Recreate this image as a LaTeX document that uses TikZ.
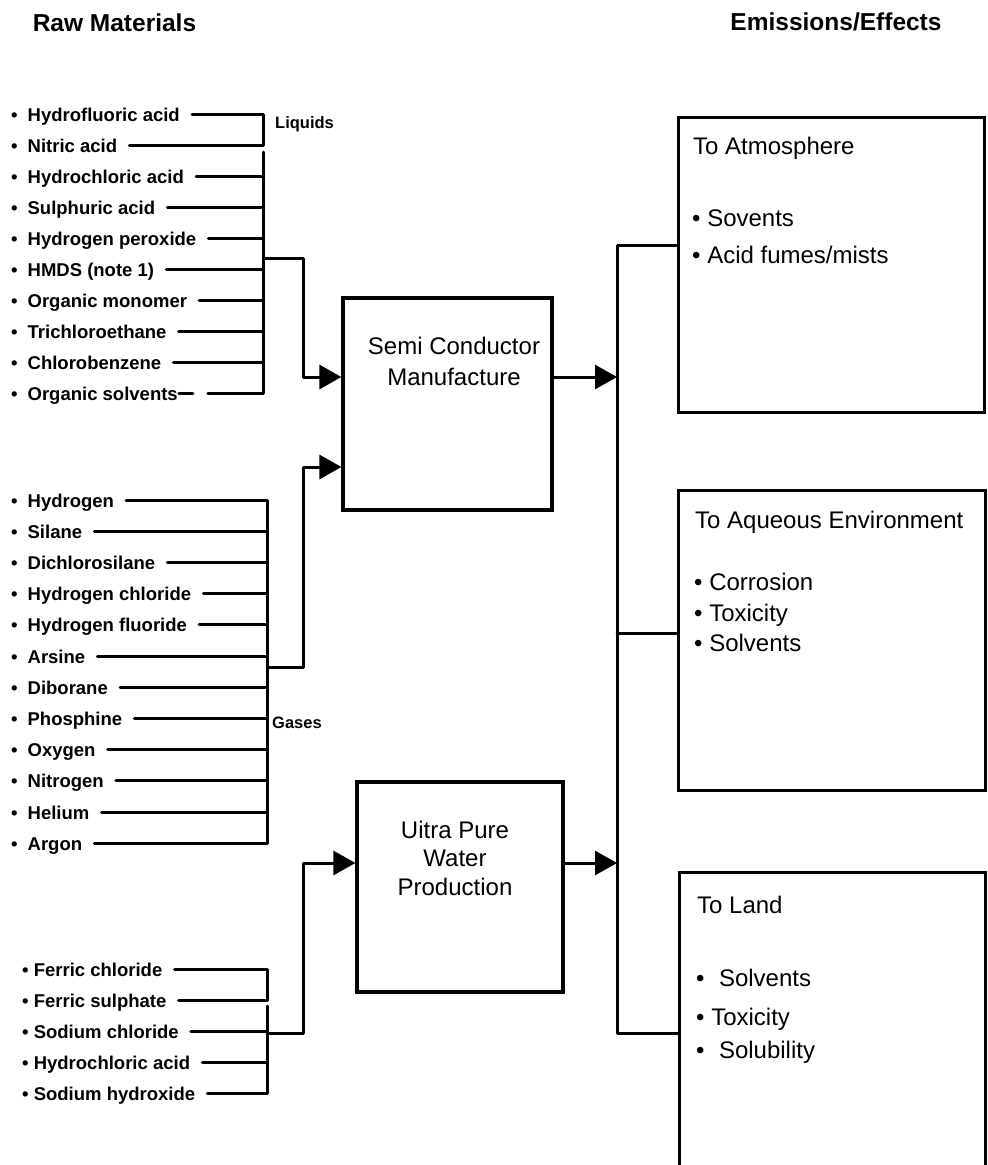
\documentclass[tikz,border=0pt]{standalone}
\usepackage{fontspec}
\setmainfont{Liberation Sans}
\usetikzlibrary{arrows.meta,calc}

% bullet followed by a wide gap, used in the raw-material lists
\newcommand{\lbul}{•\hspace{0.54em}}

\tikzset{
  wire/.style={line width=3pt, line join=round, line cap=round},
  flow/.style={line width=3pt, line join=round, -{Triangle[length=22pt,width=24pt]}},
  item/.style={anchor=west, inner sep=0pt, text height=14pt, text depth=0pt,
    font=\fontsize{18.5}{20}\selectfont\bfseries},
  group/.style={anchor=west, inner sep=0pt, text height=12pt, text depth=0pt,
    font=\fontsize{16.5}{18}\selectfont\bfseries},
  head/.style={inner sep=0pt, text height=18pt, text depth=0pt,
    font=\fontsize{24.5}{28}\selectfont\bfseries},
  procbox/.style={draw, line width=3.2pt, inner sep=0pt},
  proctext/.style={inner sep=0pt, text height=17pt, text depth=0pt,
    font=\fontsize{24}{28}\selectfont},
  sinkbox/.style={draw, line width=3pt, inner sep=0pt},
  sinktext/.style={anchor=west, inner sep=0pt, text height=17pt, text depth=0pt,
    font=\fontsize{24}{28}\selectfont},
}

\begin{document}
\begin{tikzpicture}[x=1pt,y=-1pt]
\useasboundingbox (0,0) rectangle (988,1165);

% column headings
\node[head] (hraw) at (114.5,22.5) {Raw Materials};
\node[head] (hemi) at (836,21.5) {Emissions/Effects};

% ---------------- liquids ----------------
\foreach \t [count=\i] in {Hydrofluoric acid, Nitric acid, Hydrochloric acid,
    Sulphuric acid, Hydrogen peroxide, HMDS (note 1), Organic monomer,
    Trichloroethane, Chlorobenzene, Organic solvents}
  \node[item] (liq\i) at (11,{114+31*(\i-1)}) {\lbul\t};
\node[group] (liqlab) at (275,122) {Liquids};
\coordinate (liqbus) at (263,0);
\draw[wire] ([xshift=12pt]liq1.east) -- (liq1.east -| liqbus)
  -- (liq2.east -| liqbus) -- ([xshift=12pt]liq2.east);
\foreach \i in {3,...,9}
  \draw[wire] ([xshift=12pt]liq\i.east) -- (liq\i.east -| liqbus);
\draw[wire] ($(liq2.east -| liqbus)+(0,7)$) -- (liq10.east -| liqbus)
  -- ([xshift=30pt]liq10.east);
\draw[wire] ([xshift=1pt]liq10.east) -- ([xshift=15pt]liq10.east);

% ---------------- gases ----------------
\foreach \t [count=\i] in {Hydrogen, Silane, Dichlorosilane, Hydrogen chloride,
    Hydrogen fluoride, Arsine, Diborane, Phosphine, Oxygen, Nitrogen, Helium, Argon}
  \node[item] (gas\i) at (11,{500+31.2*(\i-1)}) {\lbul\t};
\node[group] (gaslab) at (272,722) {Gases};
\coordinate (gasbus) at (267,0);
\draw[wire] ([xshift=12pt]gas1.east) -- (gas1.east -| gasbus)
  -- (gas12.east -| gasbus) -- ([xshift=12pt]gas12.east);
\foreach \i in {2,...,11}
  \draw[wire] ([xshift=12pt]gas\i.east) -- (gas\i.east -| gasbus);

% ---------------- water treatment chemicals ----------------
\foreach \t [count=\i] in {Ferric chloride, Ferric sulphate, Sodium chloride,
    Hydrochloric acid, Sodium hydroxide}
  \node[item] (wat\i) at (22,{969+31*(\i-1)}) {• \t};
\coordinate (watbus) at (267,0);
\draw[wire] ([xshift=12pt]wat1.east) -- (wat1.east -| watbus)
  -- (wat2.east -| watbus) -- ([xshift=12pt]wat2.east);
\draw[wire] ($(wat2.east -| watbus)+(0,6)$) -- (wat5.east -| watbus)
  -- ([xshift=12pt]wat5.east);
\foreach \i in {3,4}
  \draw[wire] ([xshift=12pt]wat\i.east) -- (wat\i.east -| watbus);

% ---------------- processes ----------------
\node[procbox, minimum width=209pt, minimum height=212pt] (semi) at (447.5,404) {};
\node[proctext] (semi1) at (454,346) {Semi Conductor};
\node[proctext] (semi2) at (454,377) {Manufacture};

\node[procbox, minimum width=206pt, minimum height=210pt] (upw) at (460,887) {};
\node[proctext] (upw1) at (455,830) {Uitra Pure};
\node[proctext] (upw2) at (455,858) {Water};
\node[proctext] (upw3) at (455,887) {Production};

% feeds into the processes
\coordinate (liqout) at (263,258);
\coordinate (liqbend) at (303,377);
\draw[flow] (liqout) -| (liqbend) -- (liqbend -| semi.west);

\coordinate (gasout) at (267,667);
\coordinate (gasbend) at (303,467);
\draw[flow] (gasout) -| (gasbend) -- (gasbend -| semi.west);

\coordinate (watout) at (267,1033);
\coordinate (watbend) at (303,863);
\draw[flow] (watout) -| (watbend) -- (watbend -| upw.west);

% ---------------- emissions / effects ----------------
\node[sinkbox, minimum width=306pt, minimum height=295pt] (atm) at (831,264.5) {};
\node[sinktext] (atmT) at (693,146) {To Atmosphere};
\node[sinktext] (atm1) at (692,218) {• Sovents};
\node[sinktext] (atm2) at (692,255) {• Acid fumes/mists};

\node[sinkbox, minimum width=307pt, minimum height=300pt] (aq) at (831.5,640) {};
\node[sinktext] (aqT) at (695,520) {To Aqueous Environment};
\node[sinktext] (aq1) at (694,582) {• Corrosion};
\node[sinktext] (aq2) at (694,613) {• Toxicity};
\node[sinktext] (aq3) at (694,643) {• Solvents};

\node[sinkbox, minimum width=306pt, minimum height=330pt] (land) at (832,1037) {};
\node[sinktext] (landT) at (697,905) {To Land};
\node[sinktext] (land1) at (696,978) {•\hspace{0.6em}Solvents};
\node[sinktext] (land2) at (696,1017) {• Toxicity};
\node[sinktext] (land3) at (696,1050) {•\hspace{0.6em}Solubility};

% distribution bus
\coordinate (busT) at (617,245);
\coordinate (busM) at (617,633);
\coordinate (busB) at (617,1033);
\draw[wire] (busT -| atm.west) -- (busT) -- (busB) -- (busB -| land.west);
\draw[wire] (busM) -- (busM -| aq.west);

% process outputs onto the bus
\draw[flow] (semi.east |- liqbend) -- (busT |- liqbend);
\draw[flow] (upw.east |- watbend) -- (busT |- watbend);
\end{tikzpicture}
\end{document}
